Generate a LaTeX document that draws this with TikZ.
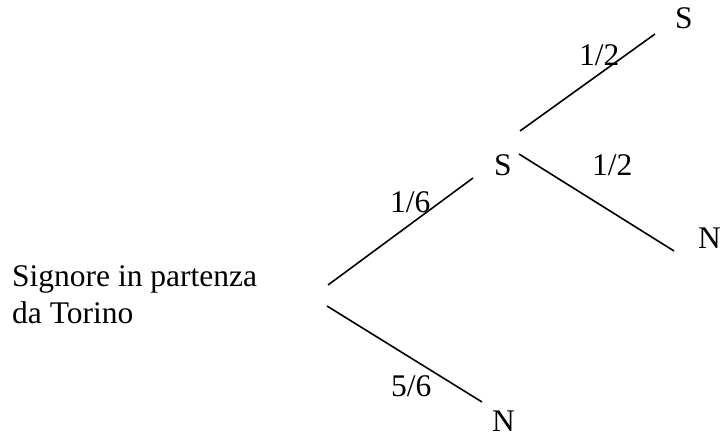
\documentclass[tikz,border=0pt]{standalone}
\usepackage{fontspec}
\setmainfont{Liberation Serif}
\begin{document}
\begin{tikzpicture}[x=1pt,y=-1pt,
  lbl/.style={anchor=base west,inner sep=0pt,font=\fontsize{31.5}{36}\selectfont},
  branch/.style={line width=1.6pt}]
\useasboundingbox (0,0) rectangle (720,434);
\node[lbl] (root1) at (12,286) {Signore in partenza};
\node[lbl] (root2) at (12,323) {da Torino};
\node[lbl] (s1) at (494,175) {S};
\node[lbl] (n1) at (492,431) {N};
\node[lbl] (s2) at (675,28) {S};
\node[lbl] (n2) at (698,248) {N};
\node[lbl] (p16) at (390,212) {1/6};
\node[lbl] (p56) at (391,396) {5/6};
\node[lbl] (p12a) at (579,65) {1/2};
\node[lbl] (p12b) at (592,175) {1/2};
\coordinate (r1) at (328,285);
\coordinate (r2) at (327,306);
\coordinate (s1in) at (473,178);
\coordinate (n1in) at (482,402);
\coordinate (s1a) at (520,131);
\coordinate (s1b) at (519,154);
\coordinate (s2in) at (655,34);
\coordinate (n2in) at (674,251);
\draw[branch] (r1) -- (s1in);
\draw[branch] (r2) -- (n1in);
\draw[branch] (s1a) -- (s2in);
\draw[branch] (s1b) -- (n2in);
\end{tikzpicture}
\end{document}
